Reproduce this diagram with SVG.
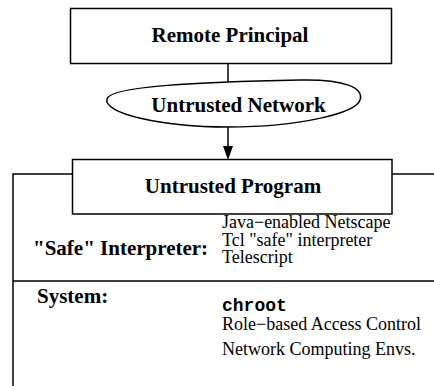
<svg xmlns="http://www.w3.org/2000/svg" width="434" height="386" viewBox="0 0 434 386">
<style>
.box{fill:#fff;stroke:#000;stroke-width:1.5}
.ln{fill:none;stroke:#000;stroke-width:1.5}
.t{font-family:"Liberation Serif","Times New Roman",serif;fill:#000}
.b{font-weight:bold;font-size:21px}
.r{font-size:18px}
.m{font-family:"Liberation Mono","Courier New",monospace;font-weight:bold;font-size:18px;fill:#000}
</style>
<g id="frame">
<path class="ln" d="M72,174 H13 V386"/>
<path class="ln" d="M392,174 H434"/>
<path class="ln" d="M13,281 H434"/>
</g>
<g id="connectors">
<path class="ln" d="M228,63 V82"/>
<path class="ln" d="M228,127 V150"/>
<polygon points="223,146 233,146 228,160" fill="#000"/>
</g>
<g id="remote-principal">
<rect class="box" x="70.5" y="8.5" width="321" height="55"/>
<text class="t b" x="230" y="42" text-anchor="middle">Remote Principal</text>
</g>
<g id="untrusted-network">
<path class="box" d="M107,99 C110,86 200,82 300,80 C345,79 364,88 360,100 C356,113 300,127 228,127 C160,127 103,113 107,99 Z"/>
<text class="t b" x="238.5" y="112" text-anchor="middle">Untrusted Network</text>
</g>
<g id="untrusted-program">
<rect class="box" x="72.5" y="159.5" width="319.5" height="54.5"/>
<text class="t b" x="233" y="193" text-anchor="middle">Untrusted Program</text>
</g>
<g id="safe-interpreter">
<text class="t b" x="33" y="255">"Safe" Interpreter:</text>
<text class="t r" x="222" y="228">Java−enabled Netscape</text>
<text class="t r" x="222" y="246">Tcl "safe" interpreter</text>
<text class="t r" x="222" y="263">Telescript</text>
</g>
<g id="system">
<text class="t b" x="37" y="303">System:</text>
<text class="m" x="222" y="311">chroot</text>
<text class="t r" x="222" y="330">Role−based Access Control</text>
<text class="t r" x="222" y="355">Network Computing Envs.</text>
</g>
</svg>
